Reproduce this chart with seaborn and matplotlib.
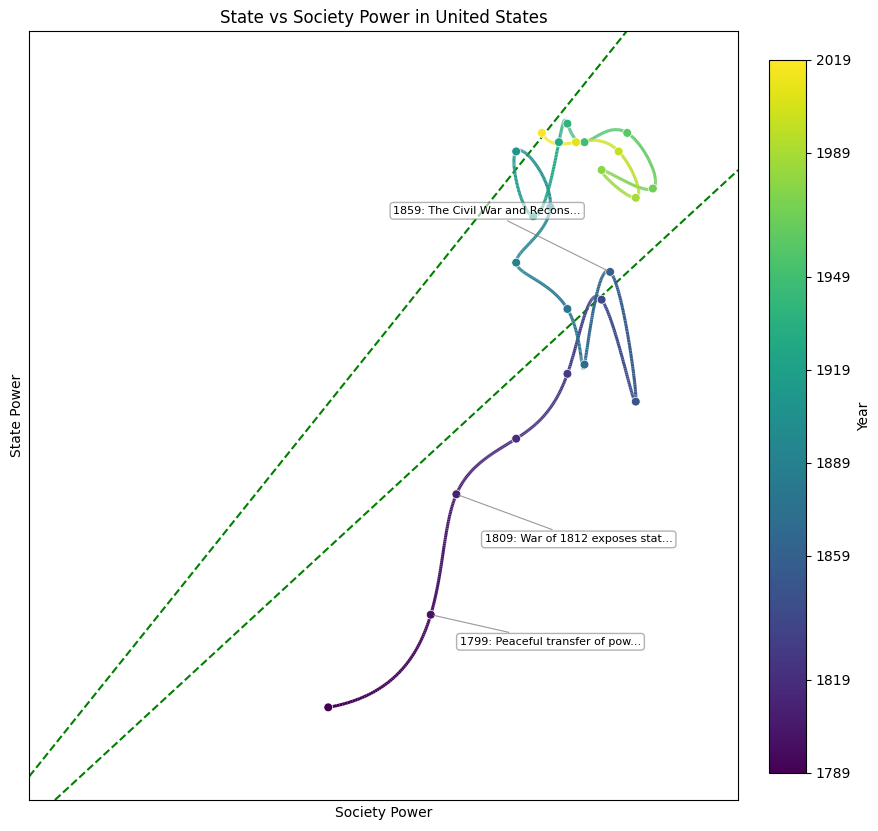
import matplotlib
matplotlib.use("Agg")
import matplotlib.pyplot as plt
import seaborn as sns
import pandas as pd
import numpy as np
from matplotlib.collections import LineCollection
from matplotlib.colors import Normalize
from matplotlib.cm import ScalarMappable

# Data
years = [1789, 1799, 1809, 1819, 1829, 1839, 1849, 1859, 1869, 1879, 1889, 1899,
         1909, 1919, 1929, 1939, 1949, 1959, 1969, 1979, 1989, 1999, 2009, 2019]
society_power = [5.2, 6.4, 6.7, 7.4, 8.0, 8.4, 8.8, 8.5, 8.2, 8.0, 7.4, 7.8,
                 7.4, 7.6, 7.9, 8.0, 8.2, 8.7, 9.0, 8.4, 8.8, 8.6, 8.1, 7.7]
state_power = [2.7, 3.7, 5.0, 5.6, 6.3, 7.1, 6.0, 7.4, 6.4, 7.0, 7.5, 8.1,
               8.7, 8.0, 8.8, 9.0, 8.8, 8.9, 8.3, 8.5, 8.2, 8.7, 8.8, 8.9]
colorbar_ticks = [1789, 1819, 1859, 1889, 1919, 1949, 1989, 2019]

# annotated events: year, label, offset in points, alignment
event_years = [1799, 1809, 1859]
event_labels = ["1799: Peaceful transfer of pow...",
                "1809: War of 1812 exposes stat...",
                "1859: The Civil War and Recons..."]
event_offsets = [(21, -19.5), (20.5, -32.5), (-21, 44)]
event_ha = ["left", "left", "right"]

corridor_slopes = [1.15, 0.85]


def cubic_spline(t, v, tt):
    # not-a-knot cubic spline, numpy only
    t = np.asarray(t, float)
    v = np.asarray(v, float)
    n = len(t)
    h = np.diff(t)
    A = np.zeros((n, n))
    b = np.zeros(n)
    A[0, 0], A[0, 1], A[0, 2] = h[1], -(h[0] + h[1]), h[0]
    A[-1, -3], A[-1, -2], A[-1, -1] = h[-1], -(h[-2] + h[-1]), h[-2]
    for i in range(1, n - 1):
        A[i, i - 1] = h[i - 1]
        A[i, i] = 2 * (h[i - 1] + h[i])
        A[i, i + 1] = h[i]
        b[i] = 6 * ((v[i + 1] - v[i]) / h[i] - (v[i] - v[i - 1]) / h[i - 1])
    M = np.linalg.solve(A, b)
    idx = np.clip(np.searchsorted(t, tt) - 1, 0, n - 2)
    hi = h[idx]
    a = t[idx + 1] - tt
    c = tt - t[idx]
    return (M[idx] * a ** 3 / (6 * hi) + M[idx + 1] * c ** 3 / (6 * hi)
            + (v[idx] / hi - M[idx] * hi / 6) * a
            + (v[idx + 1] / hi - M[idx + 1] * hi / 6) * c)


df = pd.DataFrame({"Year": years, "Society": society_power, "State": state_power})

fig = plt.figure(figsize=(8.79, 8.31), dpi=100)
ax = fig.add_axes([0.0333, 0.0373, 0.8066, 0.9254])
cax = fig.add_axes([0.8749, 0.0698, 0.0421, 0.858])

norm = Normalize(vmin=min(years), vmax=max(years))
cmap = plt.get_cmap("viridis")

# smooth path coloured by year
tt = np.linspace(min(years), max(years), 1500)
xs = cubic_spline(years, society_power, tt)
ys = cubic_spline(years, state_power, tt)
pts = np.column_stack([xs, ys]).reshape(-1, 1, 2)
segs = np.concatenate([pts[:-1], pts[1:]], axis=1)
lc = LineCollection(segs, cmap=cmap, norm=norm, linewidth=2.2, zorder=2)
lc.set_array((tt[:-1] + tt[1:]) / 2)
ax.add_collection(lc)

sns.scatterplot(data=df, x="Society", y="State", hue="Year", palette="viridis",
                hue_norm=(min(years), max(years)), legend=False, s=40,
                edgecolor="white", linewidth=0.5, zorder=3, ax=ax)

lo = min(min(society_power), min(state_power)) - 1
hi = max(max(society_power), max(state_power)) + 1
for k in corridor_slopes:
    ax.axline((0, 0), slope=k, color="green", linestyle="--", linewidth=1.5, zorder=1)
ax.set_xlim(lo, hi)
ax.set_ylim(lo, hi)

for yr, label, off, ha in zip(event_years, event_labels, event_offsets, event_ha):
    row = df[df["Year"] == yr].iloc[0]
    ax.annotate(label, xy=(row["Society"], row["State"]), xytext=off,
                textcoords="offset points", ha=ha, va="center", fontsize=8,
                bbox=dict(boxstyle="round,pad=0.3", fc="white", ec="gray", alpha=0.6),
                arrowprops=dict(arrowstyle="-", color="gray", lw=0.8, alpha=0.8),
                zorder=4)

ax.set_xticks([])
ax.set_yticks([])
ax.set_xlabel("Society Power")
ax.set_ylabel("State Power")
ax.set_title("State vs Society Power in United States", fontsize=12)

cb = fig.colorbar(ScalarMappable(norm=norm, cmap=cmap), cax=cax)
cb.set_ticks(colorbar_ticks)
cb.set_label("Year")

fig.savefig("out.png", dpi=100)
